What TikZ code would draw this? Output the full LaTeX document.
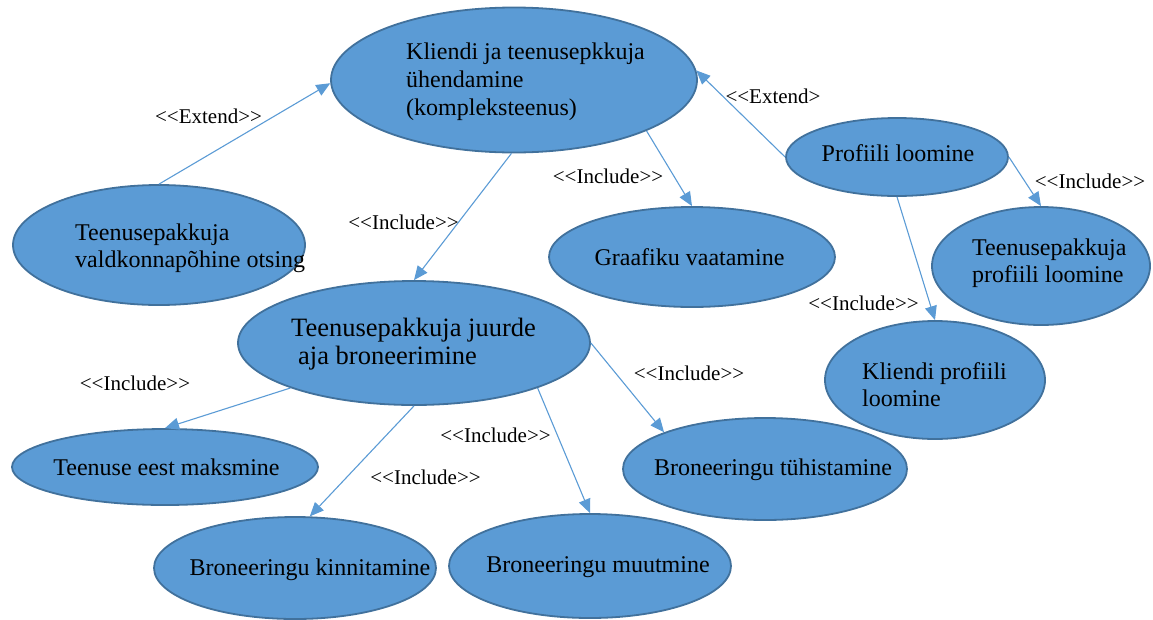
\documentclass[tikz,border=0pt]{standalone}
\usepackage{fontspec}
\setmainfont{Liberation Serif}[Ligatures=Common]
\newfontfamily\tnr{Liberation Serif}
\usetikzlibrary{shapes.geometric,arrows.meta}
\definecolor{ufill}{HTML}{5B9BD5}
\definecolor{uline}{HTML}{41719C}
\definecolor{aline}{HTML}{5B9BD5}
\newcommand{\lt}{\char"3C\relax}
\newcommand{\gt}{\char"3E\relax}
\begin{document}
\begin{tikzpicture}[x=1pt,y=-1pt,
  uc/.style={ellipse,draw=uline,fill=ufill,line width=1.8pt,inner sep=0pt},
  utxt/.style={inner sep=0pt,align=left,font=\tnr\fontsize{24}{28}\selectfont},
  lbl/.style={inner sep=0pt,font=\tnr\fontsize{21}{24}\selectfont},
  rel/.style={draw=aline,line width=1.1pt,-{Triangle[length=14pt,width=12pt]}}]
\useasboundingbox (0,0) rectangle (1153,619);
% use cases
\node[uc,minimum width=366pt,minimum height=145pt] (main) at (514,80) {};
\node[uc,minimum width=292pt,minimum height=120pt] (otsing) at (159,245) {};
\node[uc,minimum width=286pt,minimum height=100pt] (graaf) at (692,257) {};
\node[uc,minimum width=222pt,minimum height=78pt] (prof) at (897,157) {};
\node[uc,minimum width=218pt,minimum height=118pt] (tpl) at (1041,266) {};
\node[uc,minimum width=220pt,minimum height=118pt] (kpl) at (935,380) {};
\node[uc,minimum width=352pt,minimum height=124pt] (bron) at (414,343) {};
\node[uc,minimum width=306pt,minimum height=76pt] (maks) at (165,467) {};
\node[uc,minimum width=282pt,minimum height=102pt] (kinn) at (295,568) {};
\node[uc,minimum width=282pt,minimum height=104pt] (muut) at (590,566) {};
\node[uc,minimum width=284pt,minimum height=102pt] (tyh) at (765,469) {};
% texts
\node[utxt,anchor=west] (tmain) at (406,81.5) {Kliendi ja teenusepkkuja\\ühendamine\\(kompleksteenus)};
\node[utxt,anchor=west,font=\tnr\fontsize{24}{27}\selectfont] (totsing) at (75,248.5) {Teenusepakkuja\\valdkonnapõhine otsing};
\node[utxt] (tgraaf) at (689.5,257) {Graafiku vaatamine};
\node[utxt] (tprof) at (898,153) {Profiili loomine};
\node[utxt,anchor=west,font=\tnr\fontsize{24}{27}\selectfont] (ttpl) at (972,263.5) {Teenusepakkuja\\profiili loomine};
\node[utxt,anchor=west,font=\tnr\fontsize{24}{27}\selectfont] (tkpl) at (862,384.5) {Kliendi profiili\\loomine};
\node[utxt,anchor=west,font=\tnr\fontsize{26.5}{28.5}\selectfont] (tbron) at (291,344) {Teenusepakkuja juurde\\\hspace*{7pt}aja broneerimine};
\node[utxt] (tmaks) at (166.5,467) {Teenuse eest maksmine};
\node[utxt] (tkinn) at (310,570) {Broneeringu kinnitamine};
\node[utxt] (tmuut) at (598,567) {Broneeringu muutmine};
\node[utxt] (ttyh) at (773,470) {Broneeringu tühistamine};
% relations
\draw[rel] (otsing.north) -- (main.181);
\draw[rel] (prof.west) -- (main.3);
\draw[rel] (main.268) -- (bron.north);
\draw[rel] (main.-21) -- (graaf.north);
\draw[rel] (prof.east) -- (tpl.north);
\draw[rel] (prof.south) -- (kpl.north);
\draw[rel] (bron.200) -- (maks.north);
\draw[rel] (bron.south) -- (kinn.74);
\draw[rel] (bron.340.5) -- (muut.north);
\draw[rel] (bron.east) -- (tyh.160);
% labels
\node[lbl] (l1) at (208.5,116) {\lt\lt Extend\gt\gt};
\node[lbl] (l2) at (773,96) {\lt\lt Extend\gt};
\node[lbl] (l3) at (403.5,222) {\lt\lt Include\gt\gt};
\node[lbl] (l4) at (608,176) {\lt\lt Include\gt\gt};
\node[lbl] (l5) at (1090,181) {\lt\lt Include\gt\gt};
\node[lbl] (l6) at (863.5,303) {\lt\lt Include\gt\gt};
\node[lbl] (l7) at (135,383) {\lt\lt Include\gt\gt};
\node[lbl] (l8) at (425.5,477) {\lt\lt Include\gt\gt};
\node[lbl] (l9) at (495.5,435) {\lt\lt Include\gt\gt};
\node[lbl] (l10) at (689,373) {\lt\lt Include\gt\gt};
\end{tikzpicture}
\end{document}
